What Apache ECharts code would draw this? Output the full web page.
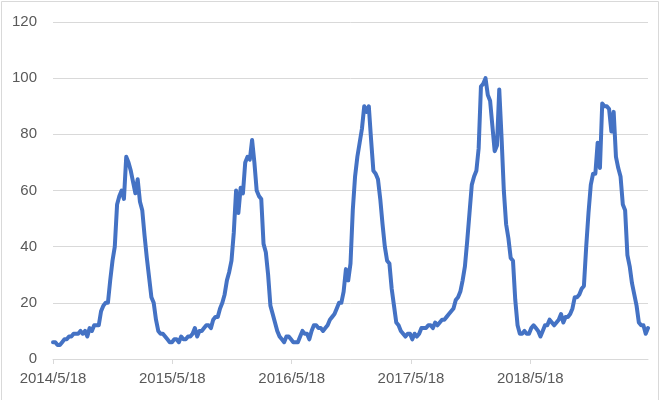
<!DOCTYPE html>
<html>
<head>
<meta charset="utf-8">
<script src="https://cdn.jsdelivr.net/npm/echarts@6/dist/echarts.min.js"></script>
<style>
  html, body { margin: 0; padding: 0; background: #fff; }
  #chart { width: 668px; height: 400px; }
</style>
</head>
<body>
<div id="chart"></div>
<script>
// Weekly series starting 2014/5/18
const startDate = '2014/5/18';
const weekValues = [
  6, 6, 5, 5, 6, 7, 7, 8, 8, 9,
  9, 9, 10, 9, 10, 8, 11, 10, 12, 12,
  12, 17, 19, 20, 20, 28, 35, 40, 55, 58,
  60, 57, 72, 70, 67, 63, 59, 64, 56, 53,
  44, 36, 29, 22, 20, 14, 10, 9, 9, 8,
  7, 6, 6, 7, 7, 6, 8, 7, 7, 8,
  8, 9, 11, 8, 10, 10, 11, 12, 12, 11,
  14, 15, 15, 18, 20, 23, 28, 31, 35, 45,
  60, 52, 61, 59, 70, 72, 71, 78, 70, 60,
  58, 57, 41, 38, 30, 19, 16, 13, 10, 8,
  7, 6, 8, 8, 7, 6, 6, 6, 8, 10,
  9, 9, 7, 10, 12, 12, 11, 11, 10, 11,
  12, 14, 15, 16, 18, 20, 20, 24, 32, 28,
  34, 53, 65, 72, 77, 82, 90, 88, 90, 78,
  67, 66, 64, 57, 48, 40, 35, 34, 25, 19,
  13, 12, 10, 9, 8, 9, 9, 7, 9, 8,
  9, 11, 11, 11, 12, 12, 11, 13, 12, 13,
  14, 14, 15, 16, 17, 18, 21, 22, 24, 28,
  33, 42, 52, 62, 65, 67, 75, 97, 98, 100,
  94, 92, 83, 74, 76, 96, 79, 60, 48, 43,
  36, 35, 21, 12, 9, 9, 10, 9, 9, 11,
  12, 11, 10, 8, 10, 12, 12, 14, 13, 12,
  13, 14, 16, 13, 15, 15, 16, 18, 22, 22,
  23, 25, 26, 40, 52, 62, 66, 66, 77, 68,
  91, 90, 90, 89, 81, 88, 72, 68, 65, 55,
  53, 37, 33, 27, 23, 19, 13, 12, 12, 9,
  11
];
const tickLabels = ['2014/5/18', '2015/5/18', '2016/5/18', '2017/5/18', '2018/5/18'];
const yTicks = [0, 20, 40, 60, 80, 100, 120];

// x = days since start date (weekly points)
const seriesData = weekValues.map((v, i) => [i * 7, v]);
const lastDay = (weekValues.length - 1) * 7;

const chart = echarts.init(document.getElementById('chart'));
const fontFamily = 'Liberation Sans, Arial, sans-serif';
chart.setOption({
  animation: false,
  backgroundColor: '#ffffff',
  graphic: [{
    type: 'rect',
    shape: { x: 1.5, y: 1.5, width: 657, height: 402 },
    style: { fill: 'none', stroke: '#d9d9d9', lineWidth: 1 },
    silent: true
  }],
  grid: { left: 53, right: 20, top: 22, bottom: 41, containLabel: false },
  xAxis: {
    type: 'value',
    min: 0,
    max: lastDay,
    interval: 365,
    axisLine: { show: true, lineStyle: { color: '#d9d9d9', width: 1 } },
    axisTick: { show: true, length: 5, lineStyle: { color: '#d9d9d9' } },
    splitLine: { show: false },
    axisLabel: {
      color: '#595959',
      fontSize: 15,
      fontFamily: fontFamily,
      margin: 12,
      showMaxLabel: false,
      formatter: function (v) {
        const k = Math.round(v / 365);
        return tickLabels[k] !== undefined ? tickLabels[k] : '';
      }
    }
  },
  yAxis: {
    type: 'value',
    min: yTicks[0],
    max: yTicks[yTicks.length - 1],
    interval: 20,
    axisLine: { show: false },
    axisTick: { show: false },
    splitLine: { show: true, lineStyle: { color: '#d9d9d9', width: 1 } },
    axisLabel: { color: '#595959', fontSize: 15, fontFamily: fontFamily, margin: 16 }
  },
  series: [{
    type: 'line',
    data: seriesData,
    showSymbol: false,
    symbol: 'none',
    lineStyle: { color: '#4472c4', width: 4, join: 'round', cap: 'round' },
    itemStyle: { color: '#4472c4' }
  }]
});
</script>
</body>
</html>
